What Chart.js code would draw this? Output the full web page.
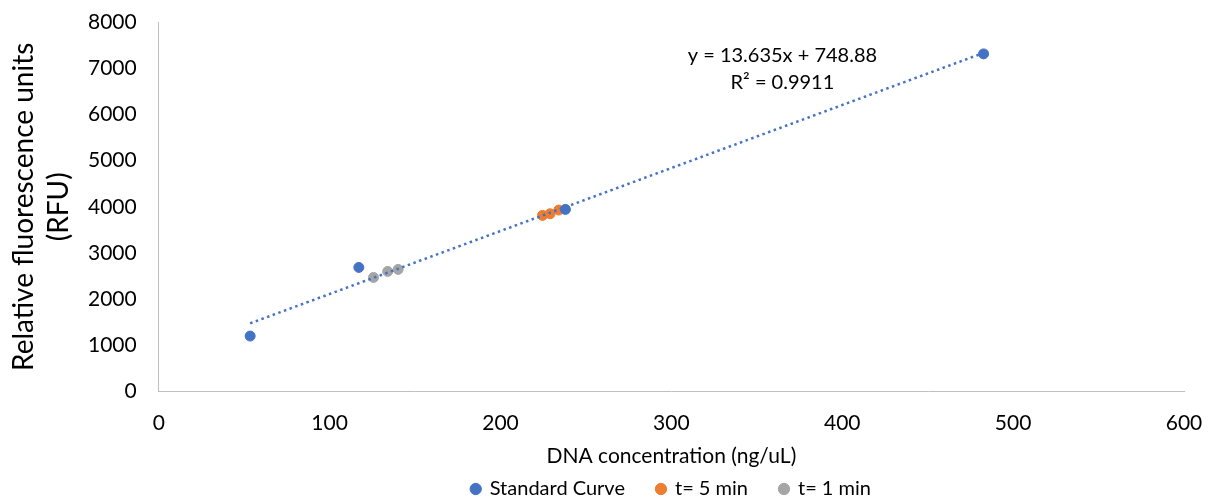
<!DOCTYPE html>
<html>
<head>
<meta charset="utf-8">
<script src="https://cdn.jsdelivr.net/npm/chart.js@4/dist/chart.umd.min.js"></script>
<style>
  body { margin: 0; background: #fff; }
  #wrap { width: 1209px; height: 499px; }
</style>
</head>
<body>
<div id="wrap"><canvas id="scatterChart"></canvas></div>
<script>
// standard curve
var stdX = [53.5, 117.1, 238.0, 482.7];
var stdY = [1202, 2688, 3944, 7310];
// t= 5 min samples
var t5X = [224.6, 229.0, 234.1];
var t5Y = [3814, 3849, 3929];
// t= 1 min samples
var t1X = [125.7, 134.0, 140.1];
var t1Y = [2471, 2601, 2645];

// linear trendline shown on the chart
var slope = 13.635;
var intercept = 748.88;
var eqText = ["y = 13.635x + 748.88", "R\u00B2 = 0.9911"];

var yTicks = [0, 1000, 2000, 3000, 4000, 5000, 6000, 7000, 8000];
var xTicks = [0, 100, 200, 300, 400, 500, 600];

function pts(xs, ys) {
    var out = [];
    for (var i = 0; i < xs.length; i++) out.push({ x: xs[i], y: ys[i] });
    return out;
}

var xMin = Math.min.apply(null, stdX), xMax = Math.max.apply(null, stdX);
var trend = [
    { x: xMin, y: slope * xMin + intercept },
    { x: xMax, y: slope * xMax + intercept }
];

var fontFam = "Lato, sans-serif";

var eqPlugin = {
    id: 'eqLabel',
    afterDatasetsDraw: function (chart) {
        var c = chart.ctx;
        var xs = chart.scales.x, ys = chart.scales.y;
        c.save();
        c.fillStyle = '#000';
        c.font = '20px ' + fontFam;
        c.textAlign = 'center';
        c.textBaseline = 'middle';
        c.fillText(eqText[0], xs.getPixelForValue(365), ys.getPixelForValue(7280));
        c.fillText(eqText[1], xs.getPixelForValue(365), ys.getPixelForValue(6680));
        c.restore();
    }
};

var ctx = document.getElementById("scatterChart").getContext('2d');
var myChart = new Chart(ctx, {
    type: 'scatter',
    data: {
        datasets: [{
            label: "Standard Curve",
            data: pts(stdX, stdY),
            backgroundColor: '#4472C4',
            borderColor: '#4472C4',
            pointRadius: 5,
            order: 1
        }, {
            label: "t= 5 min",
            data: pts(t5X, t5Y),
            backgroundColor: '#ED7D31',
            borderColor: '#ED7D31',
            pointRadius: 5,
            order: 2
        }, {
            label: "t= 1 min",
            data: pts(t1X, t1Y),
            backgroundColor: '#A5A5A5',
            borderColor: '#A5A5A5',
            pointRadius: 5,
            order: 3
        }, {
            label: "trend",
            type: 'line',
            data: trend,
            borderColor: '#4472C4',
            borderWidth: 2.5,
            borderDash: [2.5, 3.5],
            pointRadius: 0,
            fill: false,
            order: 0
        }]
    },
    options: {
        responsive: true,
        maintainAspectRatio: false,
        animation: false,
        layout: { padding: { left: 0, right: 25, top: 22, bottom: -10 } },
        plugins: {
            legend: {
                position: 'bottom',
                fullSize: false,
                labels: {
                    usePointStyle: true,
                    pointStyle: 'circle',
                    boxWidth: 8,
                    boxHeight: 8,
                    padding: 32,
                    color: '#000',
                    font: { family: fontFam, size: 20 },
                    filter: function (item) { return item.text !== 'trend'; }
                }
            },
            tooltip: { enabled: false }
        },
        scales: {
            x: {
                type: 'linear',
                min: 0,
                max: 600,
                afterBuildTicks: function (axis) {
                    axis.ticks = xTicks.map(function (v) { return { value: v }; });
                },
                afterFit: function (axis) {
                    axis.paddingLeft = 0;
                    axis.paddingRight = 0;
                },
                grid: { display: false, drawTicks: false },
                border: { color: '#BFBFBF', width: 1 },
                ticks: {
                    color: '#000', padding: 19, font: { family: fontFam, size: 21 },
                    callback: function (v) { return String(v); }
                },
                title: {
                    display: true,
                    text: 'DNA concentration (ng/uL)',
                    color: '#000',
                    font: { family: fontFam, size: 21 },
                    padding: { top: -11, bottom: -22 }
                }
            },
            y: {
                min: 0,
                max: 8000,
                afterBuildTicks: function (axis) {
                    axis.ticks = yTicks.map(function (v) { return { value: v }; });
                },
                afterFit: function (axis) {
                    axis.paddingTop = 0;
                    axis.paddingBottom = 0;
                },
                grid: { display: false, drawTicks: false },
                border: { color: '#BFBFBF', width: 1 },
                ticks: {
                    color: '#000', padding: 22, font: { family: fontFam, size: 21 },
                    callback: function (v) { return String(v); }
                },
                title: {
                    display: true,
                    text: ['Relative fluorescence units', '(RFU)'],
                    color: '#000',
                    font: { family: fontFam, size: 28, lineHeight: 1.25 },
                    padding: { top: 6, bottom: -10 }
                }
            }
        }
    },
    plugins: [eqPlugin]
});
</script>
</body>
</html>
